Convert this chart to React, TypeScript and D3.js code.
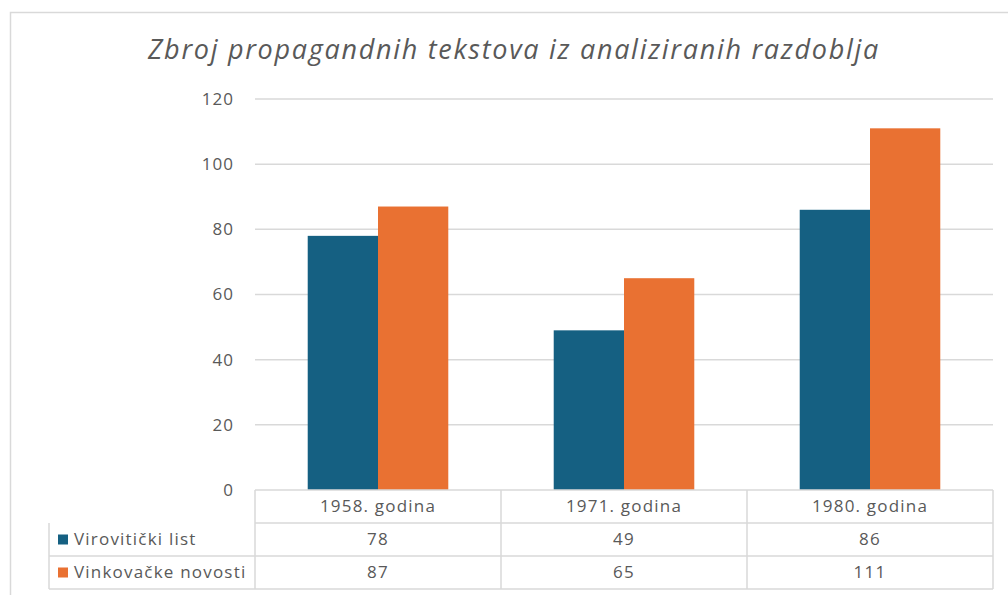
import React, { useEffect, useRef } from 'react';
import * as d3 from 'd3';

const title = 'Zbroj propagandnih tekstova iz analiziranih razdoblja';
const categories = ['1958. godina', '1971. godina', '1980. godina'];
const seriesNames = ['Virovitički list', 'Vinkovačke novosti'];
const virovitickiList = [78, 49, 86];
const vinkovackeNovosti = [87, 65, 111];
const yTicks = [0, 20, 40, 60, 80, 100, 120];

const colors = ['#156082', '#E97132'];
const gray = '#595959';
const lineGray = '#d9d9d9';
const font = '"Open Sans", sans-serif';

const App = () => {
  const ref = useRef<SVGSVGElement>(null);

  useEffect(() => {
    const svg = d3.select(ref.current);
    svg.selectAll('*').remove();

    const series = [virovitickiList, vinkovackeNovosti];
    const left = 255, right = 993, top = 99, bottom = 490;
    const rowH = 33;

    const x = d3.scaleBand().domain(categories).range([left, right]).padding(0);
    const xs = d3
      .scaleBand()
      .domain(seriesNames)
      .range([0, x.bandwidth()])
      .paddingInner(0)
      .paddingOuter(0.75);
    const y = d3.scaleLinear().domain([0, 120]).range([bottom, top]);

    // chart border
    svg.append('rect')
      .attr('x', 10.5).attr('y', 12.5)
      .attr('width', 1100).attr('height', 700)
      .attr('fill', 'white')
      .attr('stroke', lineGray).attr('stroke-width', 1.5);

    svg.append('text')
      .attr('x', 514).attr('y', 59)
      .attr('text-anchor', 'middle')
      .attr('font-family', font)
      .attr('font-style', 'italic')
      .attr('font-size', 27)
      .attr('letter-spacing', 1.7)
      .attr('fill', gray)
      .text(title);

    // gridlines + tick labels
    const grid = svg.append('g');
    grid.selectAll('line').data(yTicks.filter(d => d > 0)).enter().append('line')
      .attr('x1', left).attr('x2', right)
      .attr('y1', d => y(d)).attr('y2', d => y(d))
      .attr('stroke', lineGray).attr('stroke-width', 1.5);
    grid.selectAll('text').data(yTicks).enter().append('text')
      .attr('x', 234).attr('y', d => y(d))
      .attr('dy', '0.35em')
      .attr('text-anchor', 'end')
      .attr('font-family', font).attr('font-size', 17)
      .attr('letter-spacing', 1)
      .attr('fill', gray)
      .text(d => d);

    // bars
    series.forEach((vals, si) => {
      svg.append('g').selectAll('rect').data(vals).enter().append('rect')
        .attr('x', (d, i) => (x(categories[i]) as number) + (xs(seriesNames[si]) as number))
        .attr('width', xs.bandwidth())
        .attr('y', d => y(d))
        .attr('height', d => y(0) - y(d))
        .attr('fill', colors[si]);
    });

    // data table
    const tbl = svg.append('g')
      .attr('stroke', lineGray).attr('stroke-width', 1.5).attr('fill', 'none');
    const legendLeft = 49;
    tbl.append('line').attr('x1', left).attr('x2', right).attr('y1', bottom).attr('y2', bottom);
    for (let r = 1; r <= 3; r++) {
      tbl.append('line')
        .attr('x1', r === 1 ? left : legendLeft).attr('x2', right)
        .attr('y1', bottom + r * rowH).attr('y2', bottom + r * rowH);
    }
    tbl.append('line').attr('x1', legendLeft).attr('x2', legendLeft)
      .attr('y1', bottom + rowH).attr('y2', bottom + 3 * rowH);
    [left, ...categories.map(c => (x(c) as number) + x.bandwidth())].forEach(xx => {
      tbl.append('line').attr('x1', xx).attr('x2', xx)
        .attr('y1', bottom).attr('y2', bottom + 3 * rowH);
    });

    const txt = svg.append('g')
      .attr('font-family', font).attr('font-size', 17)
      .attr('letter-spacing', 1.2).attr('fill', gray);
    categories.forEach(c => {
      txt.append('text')
        .attr('x', (x(c) as number) + x.bandwidth() / 2)
        .attr('y', bottom + rowH / 2).attr('dy', '0.35em')
        .attr('text-anchor', 'middle').text(c);
    });
    series.forEach((vals, si) => {
      const cy = bottom + rowH * (si + 1) + rowH / 2;
      svg.append('rect')
        .attr('x', 58).attr('y', cy - 5)
        .attr('width', 10).attr('height', 10)
        .attr('fill', colors[si]);
      txt.append('text')
        .attr('x', 74).attr('y', cy).attr('dy', '0.35em')
        .text(seriesNames[si]);
      vals.forEach((v, i) => {
        txt.append('text')
          .attr('x', (x(categories[i]) as number) + x.bandwidth() / 2)
          .attr('y', cy).attr('dy', '0.35em')
          .attr('text-anchor', 'middle').text(v);
      });
    });
  }, []);

  return (
    <svg
      ref={ref}
      width={1008}
      height={595}
      style={{ position: 'absolute', left: 0, top: 0, background: 'white' }}
    />
  );
};

export default App;
